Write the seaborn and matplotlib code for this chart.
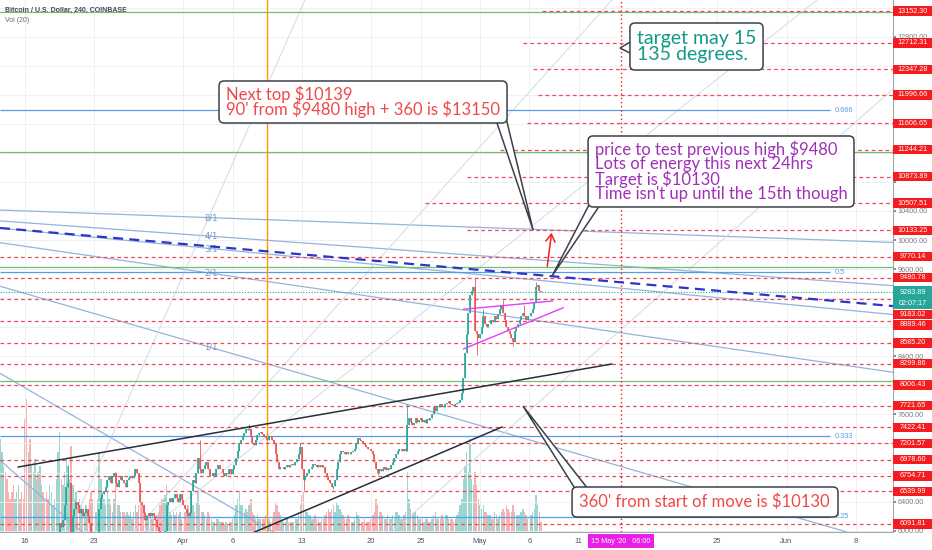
import numpy as np
import pandas as pd
import matplotlib
matplotlib.use("Agg")
import matplotlib.pyplot as plt
import matplotlib.dates as mdates
import matplotlib.transforms as mtransforms
from matplotlib.patches import FancyBboxPatch, Rectangle, Polygon
from matplotlib.patches import BoxStyle
import seaborn as sns

# ---------------- data ----------------
# 4h candles, COINBASE BTCUSD, first candle Mar 13 12:00
first_candle = "2020-03-13 12:00"
first_open = 5300
close_4h = [
    5450, 5600, 5650,                      # Mar 13 (12h-20h)
    5600, 5550, 5450, 5400, 5300, 5200,    # Mar 14
    5300, 5400, 5500, 5450, 5400, 5350,    # Mar 15
    5100, 4800, 4900, 4750, 4950, 5050,    # Mar 16
    5250, 5300, 5250, 5350, 5400, 5350,    # Mar 17
    5300, 5250, 5200, 5300, 5350, 5400,    # Mar 18
    5450, 5650, 5900, 6100, 6050, 6150,    # Mar 19
    6350, 6600, 6650, 6650, 5850, 6200,    # Mar 20
    6300, 6400, 6350, 6250, 6300, 6200,    # Mar 21
    6250, 6300, 6200, 6100, 5900, 5850,    # Mar 22
    5800, 5900, 5950, 6300, 6450, 6500,    # Mar 23
    6550, 6600, 6700, 6750, 6650, 6750,    # Mar 24
    6800, 6650, 6600, 6700, 6750, 6700,    # Mar 25
    6650, 6600, 6700, 6720, 6750, 6720,    # Mar 26
    6750, 6850, 6800, 6650, 6400, 6350,    # Mar 27
    6250, 6150, 6200, 6250, 6200, 6250,    # Mar 28
    6200, 6150, 6050, 6000, 5950, 5880,    # Mar 29
    5900, 6000, 6350, 6400, 6450, 6400,    # Mar 30
    6450, 6500, 6450, 6400, 6500, 6420,    # Mar 31
    6350, 6300, 6250, 6200, 6250, 6550,    # Apr 1
    6700, 6650, 6800, 7000, 6850, 6800,    # Apr 2
    6850, 6900, 6950, 6850, 6750, 6750,    # Apr 3
    6800, 6750, 6850, 6900, 6850, 6850,    # Apr 4
    6800, 6750, 6800, 6780, 6850, 6780,    # Apr 5
    6850, 6900, 7000, 7100, 7200, 7250,    # Apr 6
    7300, 7350, 7400, 7380, 7400, 7300,    # Apr 7
    7200, 7180, 7250, 7320, 7350, 7360,    # Apr 8
    7330, 7300, 7280, 7250, 7300, 7290,    # Apr 9
    7250, 7200, 7050, 6950, 6850, 6870,    # Apr 10
    6880, 6850, 6870, 6900, 6880, 6900,    # Apr 11
    6920, 6900, 6950, 6980, 7050, 7150,    # Apr 12
    6850, 6700, 6750, 6800, 6850, 6850,    # Apr 13
    6880, 6920, 6900, 6870, 6900, 6880,    # Apr 14
    6900, 6870, 6800, 6750, 6700, 6650,    # Apr 15
    6600, 6620, 6700, 6850, 6950, 7050,    # Apr 16
    7100, 7080, 7050, 7080, 7060, 7050,    # Apr 17
    7080, 7100, 7120, 7200, 7270, 7250,    # Apr 18
    7230, 7200, 7180, 7150, 7130, 7120,    # Apr 19
    7100, 7050, 6950, 6850, 6800, 6850,    # Apr 20
    6820, 6850, 6870, 6840, 6860, 6850,    # Apr 21
    6900, 6950, 7000, 7050, 7100, 7120,    # Apr 22
    7130, 7100, 7120, 7100, 7450, 7550,    # Apr 23
    7500, 7450, 7480, 7550, 7500, 7520,    # Apr 24
    7550, 7500, 7530, 7480, 7540, 7530,    # Apr 25
    7550, 7600, 7700, 7650, 7720, 7700,    # Apr 26
    7750, 7720, 7700, 7750, 7760, 7780,    # Apr 27
    7750, 7730, 7720, 7740, 7760, 7770,    # Apr 28
    7800, 7900, 8100, 8450, 8700, 9000,    # Apr 29
    9250, 9300, 9350, 8750, 8700, 8650,    # Apr 30
    8700, 8800, 8950, 8850, 8800, 8850,    # May 1
    8850, 8900, 8870, 8950, 8920, 8980,    # May 2
    9050, 9100, 9000, 8900, 8800, 8750,    # May 3
    8700, 8650, 8600, 8750, 8800, 8850,    # May 4
    8900, 8950, 9000, 8950, 8900, 8950,    # May 5
    8950, 9000, 9050, 9150, 9350, 9380,    # May 6
    9300, 9283.89,                         # May 7
]
# volume per 4h candle, thousand BTC
volume_4h = [
    14, 12, 10,
    9, 8, 6, 5, 6, 7,
    5, 6, 7, 5, 6, 5,
    17, 20, 12, 14, 10, 9,
    11, 8, 9, 10, 7, 6,
    5, 6, 5, 7, 6, 4,
    5, 8, 12, 15, 8, 7,
    9, 11, 10, 8, 13, 7,
    5, 6, 4, 5, 4, 3,
    3, 4, 3, 5, 6, 5,
    4, 3, 5, 12, 8, 6,
    5, 4, 6, 5, 4, 3,
    5, 9, 4, 4, 3, 3,
    3, 2.5, 3, 2.5, 3, 2,
    3, 4, 3, 4, 6, 4,
    4, 3, 2.5, 2, 2.5, 2,
    2, 2, 2.5, 3, 4, 5,
    5, 5.5, 7, 4, 3, 2.5,
    3, 2.5, 3, 2.5, 3, 2,
    2.5, 3, 3.5, 4, 3, 5,
    4, 3, 4.5, 6, 4, 3,
    3, 2.5, 2, 3, 2.5, 2,
    1.5, 1.5, 2, 2, 1.5, 1.5,
    1.5, 1.2, 1.5, 1.2, 1.5, 1.5,
    2, 2.5, 4, 5, 6, 4,
    4, 3, 3.5, 3, 4, 5,
    3, 2.5, 2, 2.5, 2, 2,
    2, 2, 2.5, 2, 2, 1.5,
    2, 3, 4.5, 4, 3, 2.5,
    2, 1.5, 1.5, 2, 1.5, 1.5,
    1.5, 1.5, 2, 2, 3, 4,
    5.5, 6, 3.5, 3, 2.5, 2.5,
    2, 2, 2.5, 2, 2, 1.5,
    2, 2, 2.5, 3, 3.5, 3,
    3.5, 4, 3, 4.5, 4, 3.5,
    3, 2.5, 2, 2, 2.5, 2,
    1.5, 1.5, 2, 3, 2.5, 2,
    1.5, 1.5, 2, 1.5, 1.5, 1.5,
    2, 2.5, 3, 5, 4, 3,
    3, 2.5, 2, 2, 2.5, 2,
    2, 2.5, 2, 3, 3, 2.5,
    2, 2, 2.5, 3, 9, 5,
    3.5, 2.5, 3, 3, 2.5, 2,
    2, 2, 1.5, 2, 2, 1.5,
    1.5, 2, 2.5, 3, 2, 2,
    2, 2.5, 2, 2.5, 2.5, 2,
    2, 2, 1.5, 2, 2.5, 3,
    4, 5, 8, 10, 12, 9,
    14, 8, 7, 9, 7, 5,
    4, 3.5, 4, 3, 3, 2.5,
    2.5, 2, 2, 3, 2.5, 2,
    2.5, 3, 3.5, 3, 4, 3.5,
    3, 3, 4, 3, 2.5, 2.5,
    2.5, 3, 3.5, 3, 2.5, 2,
    2.5, 2.5, 3, 3.5, 5.5, 4,
    3, 1.5,
]
# wick extremes that stick out of the bodies
wick_times = ["2020-03-20 08:00", "2020-04-02 16:00", "2020-04-07 16:00",
              "2020-04-12 20:00", "2020-04-13 04:00", "2020-04-16 04:00",
              "2020-04-20 16:00", "2020-04-23 16:00", "2020-04-30 12:00",
              "2020-04-30 16:00", "2020-05-01 08:00", "2020-05-03 08:00",
              "2020-05-04 08:00", "2020-05-05 12:00", "2020-05-06 16:00"]
wick_prices = [6900, 7250, 7470, 7200, 6560, 6580, 6760, 7750, 9480,
               8420, 9050, 9170, 8540, 9100, 9420]

current_price = 9283.89
countdown = "02:07:17"

# horizontal levels (red dashed) and where each one starts (None = full width)
level_prices = [13152.30, 12712.31, 12347.28, 11996.66, 11606.65, 11244.21,
                10873.89, 10507.51, 10133.25, 9770.14, 9480.78, 9183.02,
                8889.46, 8585.20, 8299.86, 8006.43, 7721.65, 7422.41,
                7201.57, 6978.60, 6754.71, 6539.99, 6091.81]
level_starts = ["2020-05-07 07:00", "2020-05-05 08:00", "2020-05-06 09:00",
                "2020-05-06 21:00", "2020-05-05 18:00", "2020-05-03 01:00",
                "2020-04-29 16:00", "2020-04-25 11:00", "2020-04-29 16:00",
                None, None, None, None, None, None, None, None, None,
                "2020-04-01 00:00", None, None, "2020-03-21 06:00", None]
green_levels = [13145, 11210, 9626, 8056]
fib_prices = [11788, 9557, 7300, 6195]
fib_labels = ["0.666", "0.5", "0.333", "0.25"]
fib_end = "2020-06-05 10:00"

# gann fan from the Feb high (off chart, left)
fan_origin = ("2020-02-12 03:20", 10563)
fan_unit_slope = -39.51          # $ per day for the 1/1 line
fan_ratios = [1 / 8, 1 / 4, 1 / 3, 1 / 2, 1, 2, 3]
fan_labels = ["8/1", "4/1", "3/1", "2/1", "1/1", "", ""]
fan_label_at = "2020-04-03 19:30"

# faint rays from the March low
faint_rays = [
    (("2020-03-30 21:00", 9175), ("2020-04-13 07:30", 13304)),
    (("2020-04-01 00:00", 6739), ("2020-05-14 08:30", 13304)),
    (("2020-04-06 00:45", 6931), ("2020-06-04 02:00", 13304)),
    (("2020-04-22 02:40", 5982), ("2020-06-11 18:30", 12079)),
]
trend_lines = [
    (("2020-03-15 07:00", 6876), ("2020-05-14 08:30", 8294)),
    (("2020-04-07 18:00", 5954), ("2020-05-03 05:30", 7427)),
]
triangle_lines = [
    (("2020-04-29 07:40", 9047), ("2020-05-08 08:40", 9161)),
    (("2020-04-29 07:40", 8500), ("2020-05-09 10:20", 9069)),
]
blue_dash = (("2020-03-16 00:00", 10136), ("2020-05-31 00:00", 9231))
arrow_pts = (("2020-05-07 18:30", 9601), ("2020-05-08 06:40", 10138))
orange_vline = "2020-04-09 12:00"
target_vline = "2020-05-15 06:00"

# callouts: text, colour, size, line spacing, box (left, right, top, bottom),
# tail (base1, apex, base2)
callouts = [
    ("Next top $10139\n90' from $9480 high + 360 is $13150", "#f04848", 12, 0.86,
     ("2020-04-04 14:50", "2020-05-03 17:45", 12189, 11611),
     (("2020-05-02 15:00", 11652), ("2020-05-06 09:00", 10138), ("2020-05-03 15:20", 11680))),
    ("target may 15\n135 degrees.", "#12998a", 14, 0.92,
     ("2020-05-16 04:00", "2020-05-29 15:00", 12987, 12340),
     (("2020-05-16 09:00", 12739), ("2020-05-15 03:50", 12643), ("2020-05-16 09:00", 12560))),
    ("price to test previous high $9480\nLots of energy this next 24hrs\n"
     "Target is $10130\nTime isn't up until the 15th though", "#a030b8", 12, 0.87,
     ("2020-05-11 22:20", "2020-06-07 19:40", 11432, 10455),
     (("2020-05-12 05:30", 10537), ("2020-05-08 07:00", 9505), ("2020-05-13 03:20", 10482))),
    ("360' from start of move is $10130", "#f04848", 12, 0.9,
     ("2020-05-10 07:30", "2020-06-06 04:50", 6601, 6188),
     (("2020-05-10 17:00", 6560), ("2020-05-05 08:25", 7716), ("2020-05-11 22:20", 6573))),
]

tick_dates = ["2020-03-16", "2020-03-23", "2020-04-01", "2020-04-06", "2020-04-13",
              "2020-04-20", "2020-04-25", "2020-05-01", "2020-05-06", "2020-05-11",
              "2020-05-25", "2020-06-01", "2020-06-08"]
tick_labels = ["16", "23", "Apr", "6", "13", "20", "25", "May", "6", "11", "25", "Jun", "8"]
price_ticks = list(range(6000, 13201, 400))

x_range = ("2020-03-13 11:20", "2020-06-11 18:20")
y_range = (5981.7, 13303.7)

# ---------------- style ----------------
TEAL = "#26a69a"
RED = "#ef5350"
LABEL_RED = "#f41c1c"
DASH_RED = "#ee4a5e"
FAN = "#93b4dc"
FIB = "#5b9be6"
GREEN = "#70c070"
EDGE = "#3d404a"
AXIS_FONT = "Liberation Sans"

sns.set_theme(style="white")
plt.rcParams["font.family"] = ["Lato", "DejaVu Sans"]


def num(s):
    return mdates.date2num(pd.Timestamp(s))


times = pd.date_range(first_candle, periods=len(close_4h), freq="4h")
t = mdates.date2num(times)
close = np.array(close_4h, dtype=float)
open_ = np.r_[first_open, close[:-1]]
high = np.maximum(open_, close)
low = np.minimum(open_, close)
for wt, wp in zip(wick_times, wick_prices):
    i = int(np.argmin(np.abs(t - num(wt))))
    high[i] = max(high[i], wp)
    low[i] = min(low[i], wp)
up = close >= open_

fig = plt.figure(figsize=(9.32, 5.5), dpi=100)
ax = fig.add_axes([0, 18 / 550, 893 / 932, 532 / 550])
ax_vol = ax.twinx()
ax_vol.set_zorder(0)
ax.set_zorder(1)
ax.patch.set_visible(False)

# volume overlay (seaborn histogram weighted by volume, one bin per candle)
vol_df = pd.DataFrame({"t": t, "vol": volume_4h[:len(t)],
                       "dir": np.where(up, "up", "down")})
sns.histplot(data=vol_df, x="t", weights="vol", hue="dir",
             binwidth=1 / 6, binrange=(t[0] - 1 / 12, t[-1] + 1 / 12),
             palette={"up": TEAL, "down": RED}, alpha=0.45, linewidth=0,
             shrink=0.85, legend=False, multiple="layer", ax=ax_vol)
ax_vol.set_ylim(0, 80)
ax_vol.set_yticks([])
ax_vol.set_ylabel("")
ax_vol.set_xlabel("")
for s in ax_vol.spines.values():
    s.set_visible(False)

x0, x1 = num(x_range[0]), num(x_range[1])
px_day = 893 / (x1 - x0)
px_usd = 532 / (y_range[1] - y_range[0])

# grid
ax.set_axisbelow(True)
ax.grid(True, color="#eef0f6", lw=0.7)

# horizontal levels
for p, st in zip(level_prices, level_starts):
    xs = x0 if st is None else num(st)
    ax.hlines(p, xs, x1, colors=DASH_RED, lw=0.9, linestyles=(0, (3, 2.5)), zorder=3)
for p in green_levels:
    ax.axhline(p, color=GREEN, lw=0.9, zorder=2.5)
for p, lab in zip(fib_prices, fib_labels):
    ax.hlines(p, x0, num(fib_end), colors=FIB, lw=0.9, zorder=2.5)
    ax.text(num(fib_end) + 0.5, p, lab, color=FIB, fontsize=5.3, va="center",
            ha="left", family=AXIS_FONT, zorder=3)
ax.axhline(current_price, color=TEAL, lw=0.8, ls=(0, (1, 1.5)), zorder=3)

# gann fan
ox, oy = num(fan_origin[0]), fan_origin[1]
lx = num(fan_label_at)
for r, lab in zip(fan_ratios, fan_labels):
    slope = fan_unit_slope * r
    ax.axline((ox, oy), slope=slope, color=FAN, lw=0.9, zorder=2)
    if lab:
        ax.text(lx, oy + slope * (lx - ox), lab, color="#7296c6", fontsize=6,
                ha="center", va="center", family="DejaVu Sans", zorder=2.2)
for (d1, p1), (d2, p2) in faint_rays:
    ax.axline((num(d1), p1), (num(d2), p2), color="#d2dae7", lw=0.7, zorder=2)

# vertical lines
ax.axvline(num(orange_vline), color="#ff9800", lw=1.0, zorder=2.6)
ax.axvline(num(target_vline), color="#f21c1c", lw=1.0, ls=(0, (1, 2)), zorder=2.6)

# trend lines
for (d1, p1), (d2, p2) in trend_lines:
    ax.plot([num(d1), num(d2)], [p1, p2], color="#2a2e39", lw=1.1, zorder=5)
for (d1, p1), (d2, p2) in triangle_lines:
    ax.plot([num(d1), num(d2)], [p1, p2], color="#e040fb", lw=1.0, zorder=5)
ax.axline((num(blue_dash[0][0]), blue_dash[0][1]), (num(blue_dash[1][0]), blue_dash[1][1]),
          color="#2a35cc", lw=1.6, ls=(0, (4.5, 2.8)), zorder=5)

# candles
cols = np.where(up, TEAL, RED)
ax.vlines(t, low, high, colors=cols, lw=0.6, zorder=4)
ax.vlines(t, open_, close, colors=cols, lw=1.2, zorder=4)

# red arrow
(a1, ap1), (a2, ap2) = arrow_pts
ax.annotate("", xy=(num(a2), ap2), xytext=(num(a1), ap1),
            arrowprops=dict(arrowstyle="->,head_length=0.45,head_width=0.28",
                            color="#f21c1c", lw=1.1), zorder=6)

# callouts
aspect = (1 / px_usd) / (1 / px_day)
for text, color, size, spacing, (bl, br, bt, bb), tail in callouts:
    tail_xy = [(num(d), p) for d, p in tail]
    ax.add_patch(Polygon(tail_xy, closed=True, fc="white", ec=EDGE, lw=1.1, zorder=8))
    left, right = num(bl), num(br)
    box = FancyBboxPatch((left, bb), right - left, bt - bb,
                         boxstyle=BoxStyle.Round(pad=0, rounding_size=5 / px_day),
                         mutation_aspect=aspect, fc="white", ec=EDGE, lw=1.1, zorder=9)
    ax.add_patch(box)
    ax.text(left + 7 / px_day, (bt + bb) / 2, text, color=color, fontsize=size,
            ha="left", va="center", linespacing=spacing, zorder=10, parse_math=False)

ax.set_xlim(x0, x1)
ax.set_ylim(*y_range)

# right-side price labels, pushed apart like the platform does
lab_tf = mtransforms.blended_transform_factory(ax.transAxes, ax.transData)
sep = 10.6 / px_usd
items = [(p, p, f"{p:.2f}", LABEL_RED) for p in level_prices]
items.append((current_price, current_price, f"{current_price:.2f}", TEAL))
items.append((current_price - 0.01, current_price - 11.6 / px_usd, countdown, TEAL))
items.sort(key=lambda it: -it[0])
prev = None
box_w = 39 / 893
shown = []
for key, nat, txt, col in items:
    pos = nat if prev is None else min(nat, prev - sep)
    prev = pos
    shown.append(pos)
    hgt = (11.6 if col == TEAL else 9.4) / px_usd
    ax.add_patch(Rectangle((1.0, pos - hgt / 2), box_w, hgt, transform=lab_tf,
                           fc=col, ec="none", clip_on=False, zorder=11))
    ax.text(1.0 + box_w / 2, pos, txt, transform=lab_tf, color="white",
            fontsize=5.2, ha="center", va="center", family=AXIS_FONT,
            clip_on=False, zorder=12)

# axes
for side in ["left", "top"]:
    ax.spines[side].set_visible(False)
for side in ["right", "bottom"]:
    ax.spines[side].set_color("#a3a6af")
    ax.spines[side].set_linewidth(0.8)
ax.yaxis.tick_right()
ax.set_yticks(price_ticks)
# the platform hides scale labels that sit under a price label
gray_labels = [f"{p:.2f}" if min(abs(p - s) for s in shown) * px_usd >= 6 else ""
               for p in price_ticks]
ax.set_yticklabels(gray_labels)
ax.tick_params(axis="y", labelsize=5.2, colors="#787b86", length=2.2, pad=1,
               labelfontfamily=AXIS_FONT)
ax.set_xticks([num(d) for d in tick_dates])
ax.set_xticklabels(tick_labels)
ax.tick_params(axis="x", labelsize=5.5, colors="#50535e", length=0, pad=4.5,
               labelfontfamily=AXIS_FONT)

# crosshair date label
date_tf = mtransforms.blended_transform_factory(ax.transData, ax.transAxes)
ax.text(num(target_vline), -0.0175, "15 May '20   06:00", transform=date_tf,
        color="white", fontsize=5.2, ha="center", va="center", family=AXIS_FONT,
        bbox=dict(boxstyle="square,pad=0.5", fc="#e91ee8", ec="none"),
        clip_on=False, zorder=12)

# title
fig.text(5 / 932, 1 - 10 / 550, "Bitcoin / U.S. Dollar, 240, COINBASE",
         fontsize=5, color="#434651", weight="bold", family=AXIS_FONT, va="center")
fig.text(5 / 932, 1 - 21 / 550, "Vol (20)", fontsize=5, color="#6a6d78",
         family=AXIS_FONT, va="center")

fig.savefig("out.png", dpi=100)
